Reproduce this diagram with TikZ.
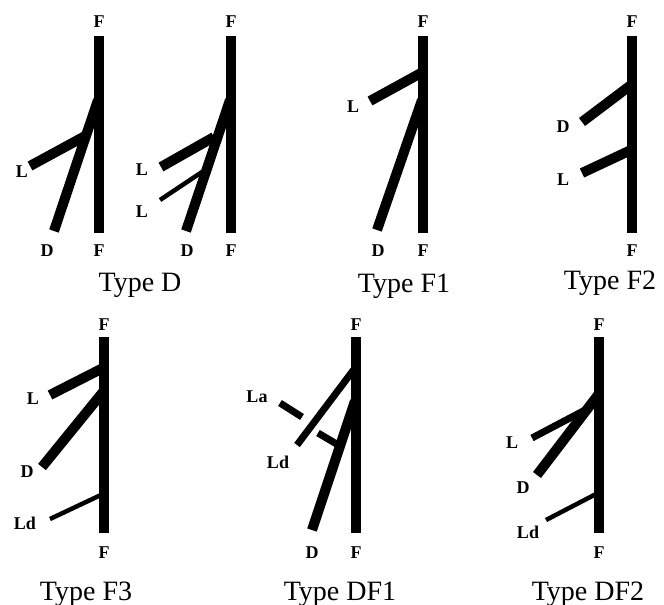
\documentclass[tikz,border=0pt]{standalone}
\usepackage{fontspec}
\setmainfont{Liberation Serif}
\begin{document}
\begin{tikzpicture}[x=1pt,y=-1pt,
  thickbar/.style={line width=10pt},
  midbar/.style={line width=7pt},
  thinbar/.style={line width=4.5pt},
  lab/.style={font=\fontsize{18}{18}\selectfont\bfseries, inner sep=0pt},
  captxt/.style={font=\fontsize{28}{28}\selectfont, inner sep=0pt, anchor=base}]
\useasboundingbox (0,0) rectangle (664,605);

% ---------- Type D, first sketch ----------
\coordinate (d1ft) at (99,36);  \coordinate (d1fb) at (99,233);
\coordinate (d1dj) at (98,100); \coordinate (d1de) at (54,231);
\coordinate (d1lj) at (87,135); \coordinate (d1le) at (30,166);
\draw[thickbar] (d1dj) -- (d1de);
\draw[thickbar] (d1lj) -- (d1le);
\draw[thickbar] (d1ft) -- (d1fb);
\node[lab] (d1Ft) at (99,22) {F};
\node[lab] (d1Fb) at (99,251) {F};
\node[lab] (d1D) at (47,251) {D};
\node[lab] (d1L) at (22,172) {L};

% ---------- Type D, second sketch ----------
\coordinate (d2ft) at (231,36);  \coordinate (d2fb) at (231,233);
\coordinate (d2dj) at (230,100); \coordinate (d2de) at (186,231);
\coordinate (d2aj) at (214,137); \coordinate (d2ae) at (161,167);
\coordinate (d2bj) at (202,172); \coordinate (d2be) at (160,200);
\draw[thickbar] (d2dj) -- (d2de);
\draw[thickbar] (d2aj) -- (d2ae);
\draw[thinbar]  (d2bj) -- (d2be);
\draw[thickbar] (d2ft) -- (d2fb);
\node[lab] (d2Ft) at (231,22) {F};
\node[lab] (d2Fb) at (231,251) {F};
\node[lab] (d2D) at (187,251) {D};
\node[lab] (d2La) at (142,170) {L};
\node[lab] (d2Lb) at (142,212) {L};
\node[captxt] (capD) at (140,291) {Type D};

% ---------- Type F1 ----------
\coordinate (f1ft) at (423,36);  \coordinate (f1fb) at (423,233);
\coordinate (f1dj) at (422,100); \coordinate (f1de) at (377,230);
\coordinate (f1lj) at (421,73);  \coordinate (f1le) at (370,101);
\draw[thickbar] (f1dj) -- (f1de);
\draw[thickbar] (f1lj) -- (f1le);
\draw[thickbar] (f1ft) -- (f1fb);
\node[lab] (f1Ft) at (423,22) {F};
\node[lab] (f1Fb) at (423,251) {F};
\node[lab] (f1D) at (378,251) {D};
\node[lab] (f1L) at (353,107) {L};
\node[captxt] (capF1) at (404,292) {Type F1};

% ---------- Type F2 ----------
\coordinate (f2ft) at (632,36);  \coordinate (f2fb) at (632,233);
\coordinate (f2dj) at (631,85);  \coordinate (f2de) at (582,122);
\coordinate (f2lj) at (631,150); \coordinate (f2le) at (582,173);
\draw[thickbar] (f2dj) -- (f2de);
\draw[thickbar] (f2lj) -- (f2le);
\draw[thickbar] (f2ft) -- (f2fb);
\node[lab] (f2Ft) at (632,22) {F};
\node[lab] (f2Fb) at (632,251) {F};
\node[lab] (f2D) at (563,127) {D};
\node[lab] (f2L) at (563,180) {L};
\node[captxt] (capF2) at (610,289) {Type F2};

% ---------- Type F3 ----------
\coordinate (f3ft) at (104,337);  \coordinate (f3fb) at (104,533);
\coordinate (f3lj) at (103,368);  \coordinate (f3le) at (50,395);
\coordinate (f3dj) at (103,392);  \coordinate (f3de) at (42,467);
\coordinate (f3sj) at (103,494);  \coordinate (f3se) at (50,519);
\draw[thickbar] (f3lj) -- (f3le);
\draw[thickbar] (f3dj) -- (f3de);
\draw[thinbar]  (f3sj) -- (f3se);
\draw[thickbar] (f3ft) -- (f3fb);
\node[lab] (f3Ft) at (104,325) {F};
\node[lab] (f3Fb) at (104,553) {F};
\node[lab] (f3L) at (33,399) {L};
\node[lab] (f3D) at (27,472) {D};
\node[lab] (f3Ld) at (25,523) {Ld};
\node[captxt] (capF3) at (86,600) {Type F3};

% ---------- Type DF1 ----------
\coordinate (g1ft) at (356,337);  \coordinate (g1fb) at (356,533);
\coordinate (g1dj) at (355,401);  \coordinate (g1de) at (312,530);
\coordinate (g1sj) at (355,368);  \coordinate (g1se) at (297,445);
\coordinate (g1aa) at (280,403);  \coordinate (g1ab) at (302,417);
\coordinate (g1ac) at (318,433);  \coordinate (g1ad) at (340,446);
\draw[thickbar] (g1dj) -- (g1de);
\draw[midbar]   (g1sj) -- (g1se);
\draw[midbar]   (g1aa) -- (g1ab);
\draw[midbar]   (g1ac) -- (g1ad);
\draw[thickbar] (g1ft) -- (g1fb);
\node[lab] (g1Ft) at (356,325) {F};
\node[lab] (g1Fb) at (356,553) {F};
\node[lab] (g1D) at (312,553) {D};
\node[lab] (g1La) at (257,397) {La};
\node[lab] (g1Ld) at (278,462) {Ld};
\node[captxt] (capDF1) at (340,600) {Type DF1};

% ---------- Type DF2 ----------
\coordinate (g2ft) at (599,337);  \coordinate (g2fb) at (599,533);
\coordinate (g2lj) at (587,409);  \coordinate (g2le) at (532,438);
\coordinate (g2dj) at (598,395);  \coordinate (g2de) at (537,475);
\coordinate (g2sj) at (598,493);  \coordinate (g2se) at (546,520);
\draw[midbar]   (g2lj) -- (g2le);
\draw[thickbar] (g2dj) -- (g2de);
\draw[thinbar]  (g2sj) -- (g2se);
\draw[thickbar] (g2ft) -- (g2fb);
\node[lab] (g2Ft) at (599,325) {F};
\node[lab] (g2Fb) at (599,553) {F};
\node[lab] (g2L) at (512,443) {L};
\node[lab] (g2D) at (523,488) {D};
\node[lab] (g2Ld) at (528,532) {Ld};
\node[captxt] (capDF2) at (588,600) {Type DF2};
\end{tikzpicture}
\end{document}
